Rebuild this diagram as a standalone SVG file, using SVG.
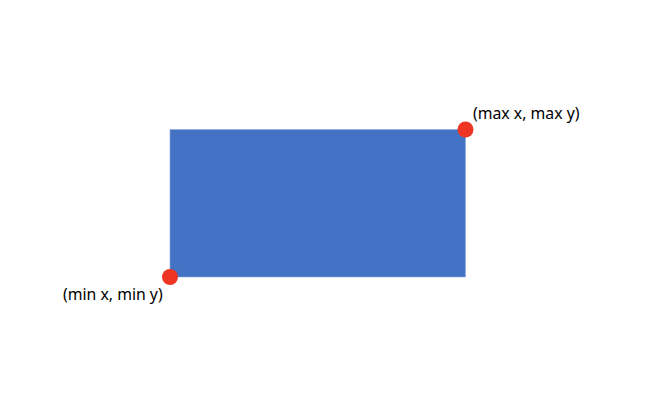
<svg xmlns="http://www.w3.org/2000/svg" width="670" height="406" viewBox="0 0 670 406">
<style>
.lbl{font-family:"Noto Sans","Open Sans",sans-serif;font-size:15.8px;fill:#000}
.pt{fill:#EE3524}
</style>
<rect width="670" height="406" fill="#fff"/>
<g id="rect"><rect x="170" y="129.5" width="295.5" height="147.5" fill="#4472C4" stroke="#8FAADC" stroke-width="0.6"/></g>
<g id="maxpt"><circle class="pt" cx="465.5" cy="129.5" r="8"/><text class="lbl" x="473" y="119">(max x, max y)</text></g>
<g id="minpt"><circle class="pt" cx="170" cy="277" r="8"/><text class="lbl" x="63" y="300">(min x, min y)</text></g>
<g id="connectors"/>
</svg>
